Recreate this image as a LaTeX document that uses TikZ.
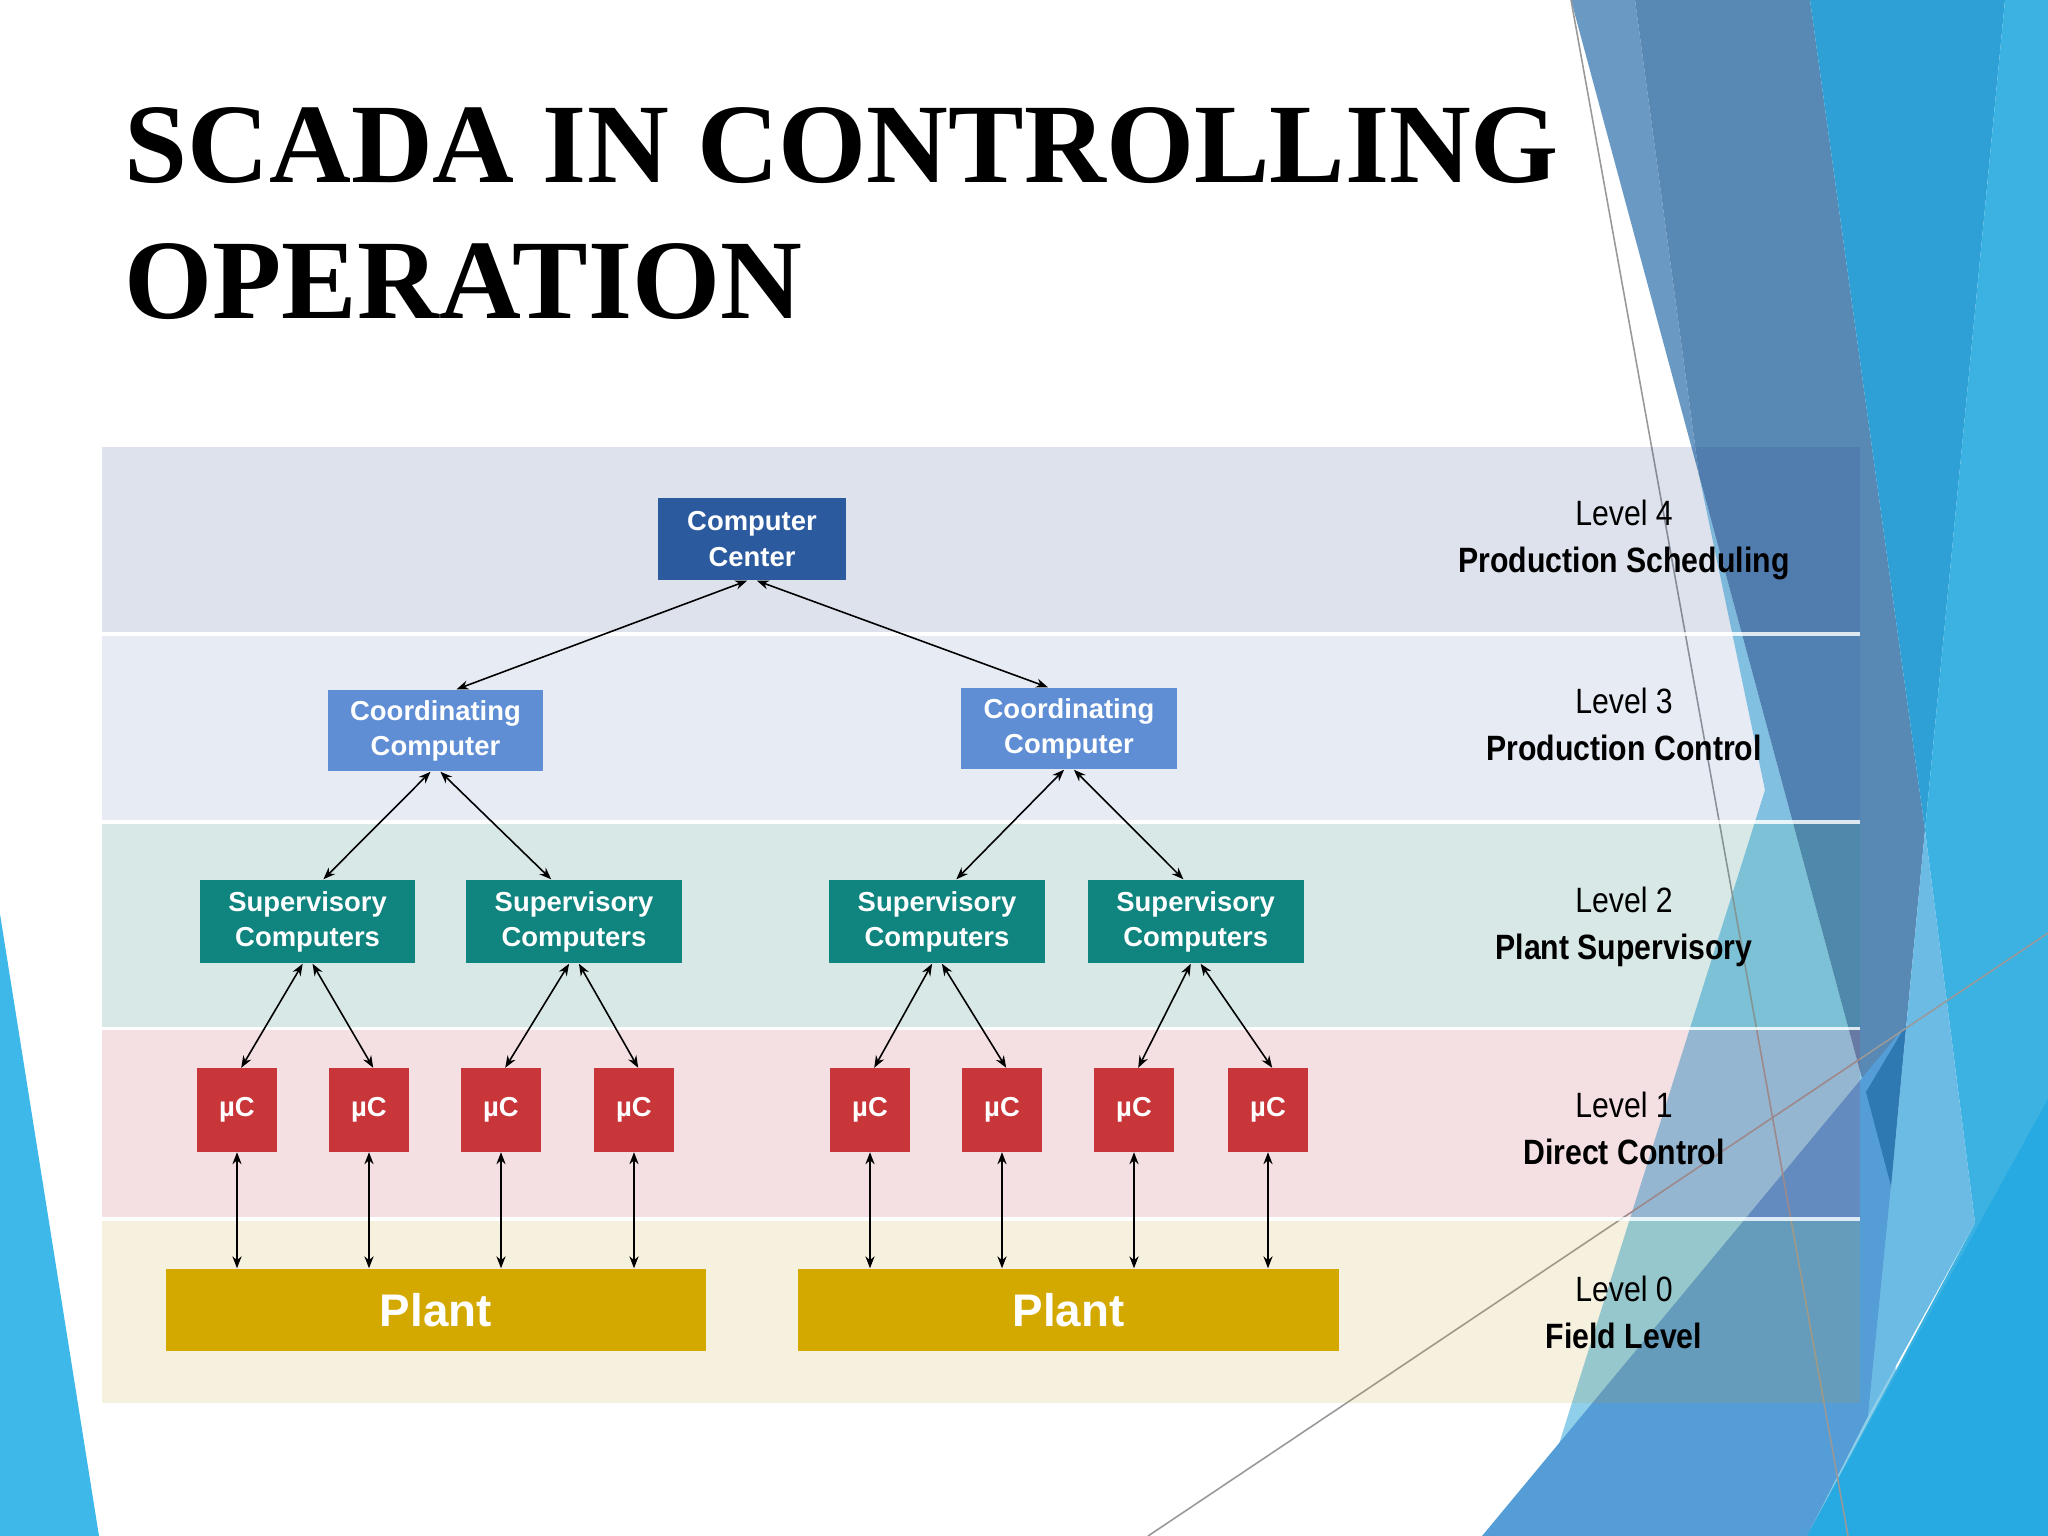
\documentclass[tikz,border=0pt]{standalone}
\usepackage{fontspec}
\setmainfont{Liberation Sans}
\newfontfamily\titlefont{Liberation Serif}
\newfontfamily\narrowfont[FakeStretch=0.86]{Liberation Sans}
\usepackage{tikz}
\usetikzlibrary{arrows.meta}

\definecolor{ccblue}{HTML}{2C5A9F}
\definecolor{coordblue}{HTML}{5F8ED5}
\definecolor{supteal}{HTML}{10847F}
\definecolor{mcred}{HTML}{C9363A}
\definecolor{plantgold}{HTML}{D3A900}
\definecolor{bandA}{HTML}{233E87}
\definecolor{bandB}{HTML}{19419B}
\definecolor{bandC}{HTML}{26857A}
\definecolor{bandD}{HTML}{B62A3E}
\definecolor{bandE}{HTML}{C39B23}
\definecolor{fleft}{HTML}{3DB8E8}
\definecolor{fpale}{HTML}{8FCFEA}
\definecolor{fstrip}{HTML}{6A9AC3}
\definecolor{fsteel}{HTML}{5889B5}
\definecolor{fbright}{HTML}{2EA0D5}
\definecolor{fright}{HTML}{3BB2E2}
\definecolor{fcyan}{HTML}{27A9E1}
\definecolor{flight}{HTML}{6CBBE5}
\definecolor{fmid}{HTML}{559DD6}
\definecolor{fdark}{HTML}{2F79B2}

\begin{document}
\begin{tikzpicture}[x=0.01cm,y=-0.01cm,
  unit/.style={rectangle,inner sep=0pt,align=center,text=white,font=\bfseries\fontsize{7.8}{10}\selectfont},
  center/.style={unit,fill=ccblue,minimum width=1.88cm,minimum height=0.82cm},
  coord/.style={unit,fill=coordblue,minimum width=2.15cm,minimum height=0.81cm},
  super/.style={unit,fill=supteal,minimum width=2.155cm,minimum height=0.83cm},
  micro/.style={unit,fill=mcred,minimum width=0.8cm,minimum height=0.83cm},
  plant/.style={unit,fill=plantgold,minimum width=5.4cm,minimum height=0.82cm,font=\bfseries\fontsize{13}{15}\selectfont},
  level/.style={align=center,inner sep=0pt,font=\narrowfont\fontsize{10}{13.4}\selectfont},
  heading/.style={anchor=base west,inner sep=0pt,font=\titlefont\bfseries\fontsize{32.2}{39}\selectfont},
  link/.style={{Stealth[length=3.4pt,width=2.6pt]}-{Stealth[length=3.4pt,width=2.6pt]},line width=0.45pt,black},
  thinline/.style={line width=0.45pt,black!40}]
\useasboundingbox (0,0) rectangle (2048,1536);
\fill[white] (0,0) rectangle (2048,1536);

% facets of the slide theme
\fill[fleft] (0,914) -- (0,1536) -- (99,1536) -- cycle;
\fill[fpale] (1699,475) -- (1765,790) -- (1530,1536) -- (1900,1536) -- (1891,1186) -- cycle;
\fill[fstrip] (1571,0) -- (1635,0) -- (1699,475) -- cycle;
\fill[fsteel] (1635,0) -- (1810,0) -- (1925,830) -- (1891,1186) -- (1699,475) -- cycle;
\fill[fbright] (1810,0) -- (2005,0) -- (1925,830) -- cycle;
\fill[fright] (2005,0) -- (2048,0) -- (2048,1536) -- (1807,1536) -- (1975,1223) -- (1925,830) -- cycle;
\fill[fcyan] (1807,1536) -- (2048,1099) -- (2048,1536) -- cycle;
\fill[flight] (1925,830) -- (1975,1223) -- (1868,1416) -- (1891,1186) -- cycle;
\fill[fmid] (1482,1536) -- (1807,1536) -- (1868,1416) -- (1891,1186) -- (1906,1025) -- cycle;
\fill[fdark] (1866,1092) -- (1906,1025) -- (1891,1186) -- cycle;
\draw[thinline] (1571,0) -- (1848,1536);
\draw[thinline] (1148,1536) -- (2048,933);

% level bands
\fill[bandA,fill opacity=0.15] (102,447) rectangle (1860,632);
\fill[bandB,fill opacity=0.10] (102,636) rectangle (1860,820);
\fill[bandC,fill opacity=0.18] (102,824) rectangle (1860,1027);
\fill[bandD,fill opacity=0.15] (102,1030) rectangle (1860,1217);
\fill[bandE,fill opacity=0.15] (102,1221) rectangle (1860,1403);
\fill[white,fill opacity=0.8] (102,632) rectangle (1860,636);
\fill[white,fill opacity=0.8] (102,820) rectangle (1860,824);
\fill[white,fill opacity=0.8] (102,1027) rectangle (1860,1030);
\fill[white,fill opacity=0.8] (102,1217) rectangle (1860,1221);

\node[heading] (T1) at (124,182) {SCADA IN CONTROLLING};
\node[heading] (T2) at (124,318) {OPERATION};

\node[center] (CC) at (752,539) {Computer\\Center};
\node[coord] (CL) at (435.5,730.5) {Coordinating\\Computer};
\node[coord] (CR) at (1069,728.5) {Coordinating\\Computer};
\node[super] (S1) at (307.6,921.5) {Supervisory\\Computers};
\node[super] (S2) at (574,921.5) {Supervisory\\Computers};
\node[super] (S3) at (937,921.5) {Supervisory\\Computers};
\node[super] (S4) at (1195.7,921.5) {Supervisory\\Computers};
\foreach \i/\x in {1/237,2/369,3/501,4/634,5/870,6/1002,7/1134,8/1268}
  \node[micro] (M\i) at (\x,1110) {µC};
\node[plant] (P1) at (435.7,1310) {Plant};
\node[plant] (P2) at (1068.5,1310) {Plant};

\draw[link] ([xshift=-1.4pt]CC.south) -- ([xshift=6pt]CL.north);
\draw[link] ([xshift=1.4pt]CC.south) -- ([xshift=-6pt]CR.north);
\draw[link] ([xshift=-1.4pt]CL.south) -- ([xshift=4.5pt]S1.north);
\draw[link] ([xshift=1.4pt]CL.south) -- ([xshift=-6.5pt]S2.north);
\draw[link] ([xshift=-1.4pt]CR.south) -- ([xshift=5.5pt]S3.north);
\draw[link] ([xshift=1.4pt]CR.south) -- ([xshift=-3.5pt]S4.north);
\foreach \s/\a/\b in {S1/M1/M2,S2/M3/M4,S3/M5/M6,S4/M7/M8} {
  \draw[link] ([xshift=-1.4pt]\s.south) -- ([xshift=1.2pt]\a.north);
  \draw[link] ([xshift=1.4pt]\s.south) -- ([xshift=1.2pt]\b.north);
}
\foreach \i/\p in {1/P1,2/P1,3/P1,4/P1,5/P2,6/P2,7/P2,8/P2}
  \draw[link] (M\i.south) -- (M\i.south |- \p.north);

\node[level] (L4) at (1624,540) {Level 4\\\textbf{Production Scheduling}};
\node[level] (L3) at (1624,724) {Level 3\\\textbf{Production Control}};
\node[level] (L2) at (1624,927) {Level 2\\\textbf{Plant Supervisory}};
\node[level] (L1) at (1624,1128) {Level 1\\\textbf{Direct Control}};
\node[level] (L0) at (1624,1312) {Level 0\\\textbf{Field Level}};
\end{tikzpicture}
\end{document}
